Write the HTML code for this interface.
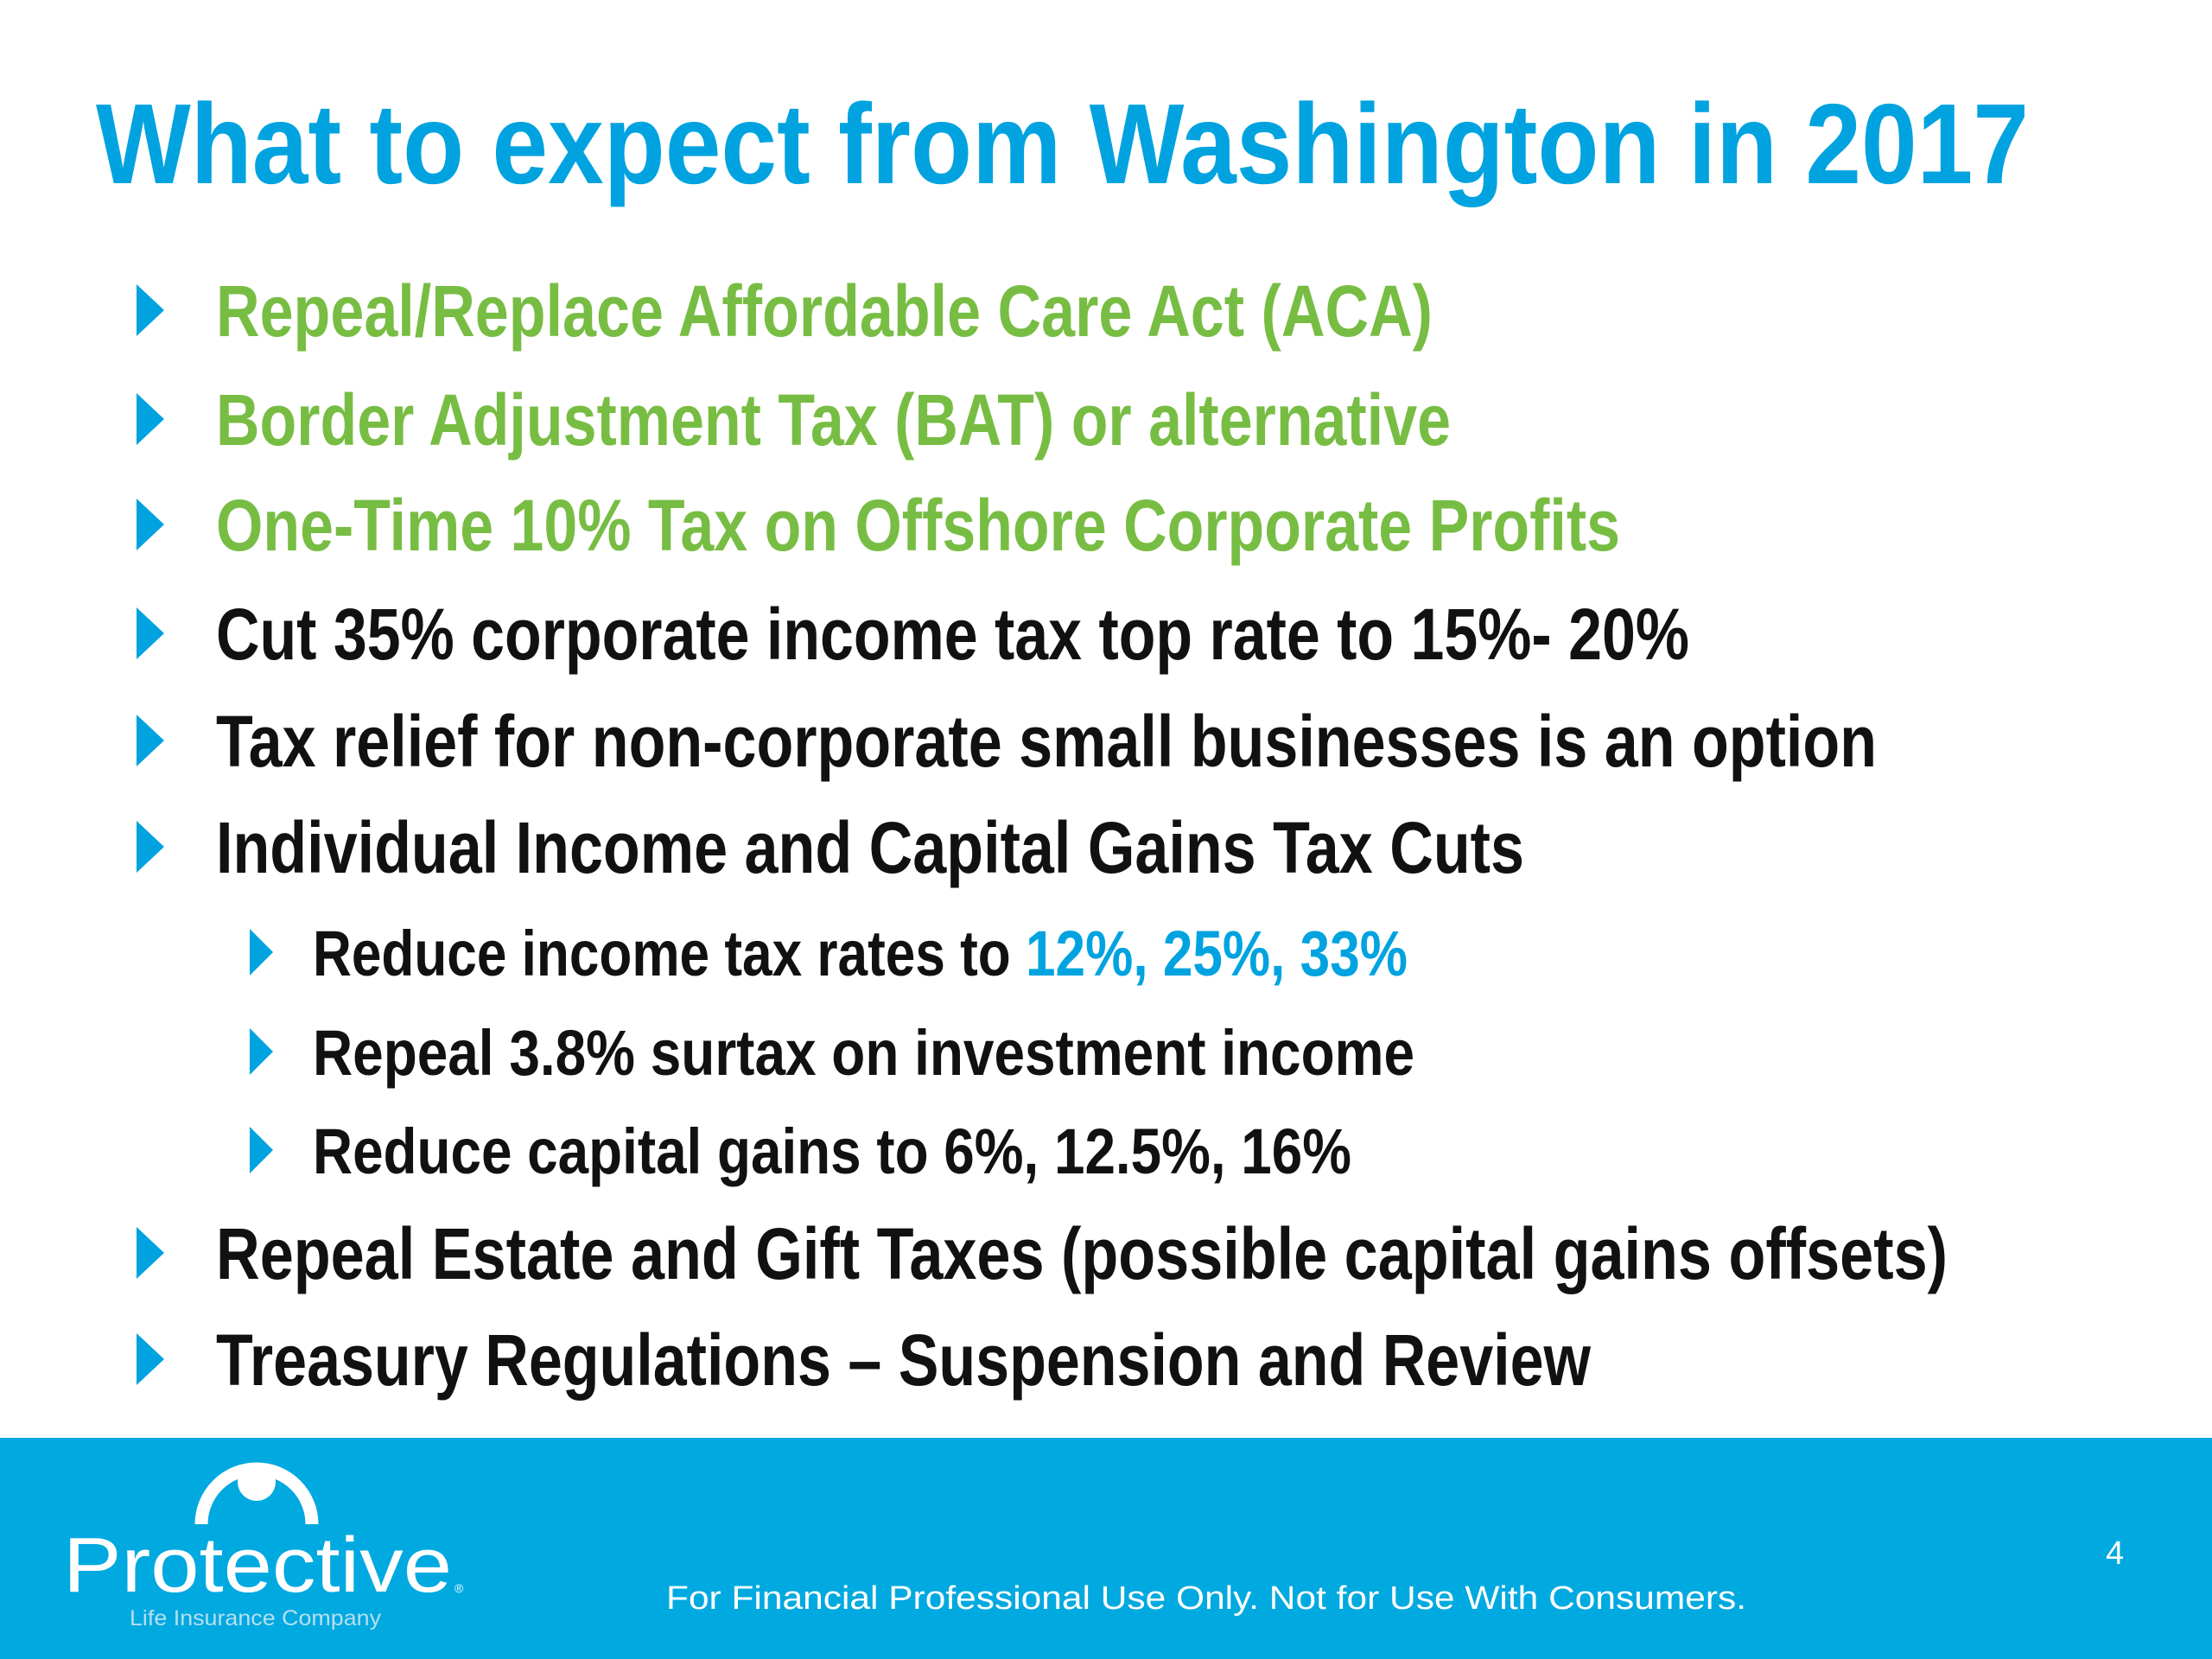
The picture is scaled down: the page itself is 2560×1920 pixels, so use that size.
<!DOCTYPE html>
<html><head><meta charset="utf-8"><style>
html,body{margin:0;padding:0;background:#fff;}
svg{display:block;}
text{font-family:"Liberation Sans",Arial,sans-serif;}
</style></head><body>
<svg width="2560" height="1920" viewBox="0 0 2560 1920">
<rect x="0" y="0" width="2560" height="1920" fill="#ffffff"/>
<text x="111" y="212" font-size="132" font-weight="bold" fill="#00a3df" textLength="2237" lengthAdjust="spacingAndGlyphs">What to expect from Washington in 2017</text>

<g font-weight="bold">
<g><polygon points="158,329 190,359 158,389" fill="#00a3df"/><text x="250" y="389" font-size="84" fill="#77bd43" textLength="1408" lengthAdjust="spacingAndGlyphs">Repeal/Replace Affordable Care Act (ACA)</text></g>
<g><polygon points="158,455 190,485 158,515" fill="#00a3df"/><text x="250" y="515" font-size="84" fill="#77bd43" textLength="1429" lengthAdjust="spacingAndGlyphs">Border Adjustment Tax (BAT) or alternative</text></g>
<g><polygon points="158,577 190,607 158,637" fill="#00a3df"/><text x="250" y="637" font-size="84" fill="#77bd43" textLength="1625" lengthAdjust="spacingAndGlyphs">One-Time 10% Tax on Offshore Corporate Profits</text></g>
<g><polygon points="158,703 190,733 158,763" fill="#00a3df"/><text x="250" y="763" font-size="84" fill="#111" textLength="1705" lengthAdjust="spacingAndGlyphs">Cut 35% corporate income tax top rate to 15%- 20%</text></g>
<g><polygon points="158,827 190,857 158,887" fill="#00a3df"/><text x="250" y="887" font-size="84" fill="#111" textLength="1922" lengthAdjust="spacingAndGlyphs">Tax relief for non-corporate small businesses is an option</text></g>
<g><polygon points="158,950 190,980 158,1010" fill="#00a3df"/><text x="250" y="1010" font-size="84" fill="#111" textLength="1514" lengthAdjust="spacingAndGlyphs">Individual Income and Capital Gains Tax Cuts</text></g>
<g><polygon points="289,1075 316,1102 289,1129" fill="#00a3df"/><text x="362" y="1129" font-size="74" fill="#111" textLength="1267" lengthAdjust="spacingAndGlyphs">Reduce income tax rates to <tspan fill="#00a3df">12%, 25%, 33%</tspan></text></g>
<g><polygon points="289,1190 316,1217 289,1244" fill="#00a3df"/><text x="362" y="1244" font-size="74" fill="#111" textLength="1275" lengthAdjust="spacingAndGlyphs">Repeal 3.8% surtax on investment income</text></g>
<g><polygon points="289,1304 316,1331 289,1358" fill="#00a3df"/><text x="362" y="1358" font-size="74" fill="#111" textLength="1202" lengthAdjust="spacingAndGlyphs">Reduce capital gains to 6%, 12.5%, 16%</text></g>
<g><polygon points="158,1420 190,1450 158,1480" fill="#00a3df"/><text x="250" y="1480" font-size="84" fill="#111" textLength="2004" lengthAdjust="spacingAndGlyphs">Repeal Estate and Gift Taxes (possible capital gains offsets)</text></g>
<g><polygon points="158,1543 190,1573 158,1603" fill="#00a3df"/><text x="250" y="1603" font-size="84" fill="#111" textLength="1591" lengthAdjust="spacingAndGlyphs">Treasury Regulations – Suspension and Review</text></g>
</g>

<g>
<rect x="0" y="1664" width="2560" height="256" fill="#00a9e0"/>
<g>
<path d="M233,1764 A64,64 0 0 1 361,1764" fill="none" stroke="#fff" stroke-width="15"/>
<circle cx="297" cy="1715" r="22" fill="#fff"/>
<text x="73" y="1842" font-size="90" fill="#fff" textLength="450" lengthAdjust="spacingAndGlyphs">Protective</text>
<text x="526" y="1843" font-size="14" fill="#fff">®</text>
<text x="150" y="1881" font-size="25" fill="#b7dff0" textLength="291" lengthAdjust="spacingAndGlyphs">Life Insurance Company</text>
</g>
<text x="771" y="1862" font-size="38" fill="#fff" textLength="1250" lengthAdjust="spacingAndGlyphs">For Financial Professional Use Only. Not for Use With Consumers.</text>
<text x="2437" y="1810" font-size="38" fill="#fff">4</text>
</g>
</svg>
</body></html>
